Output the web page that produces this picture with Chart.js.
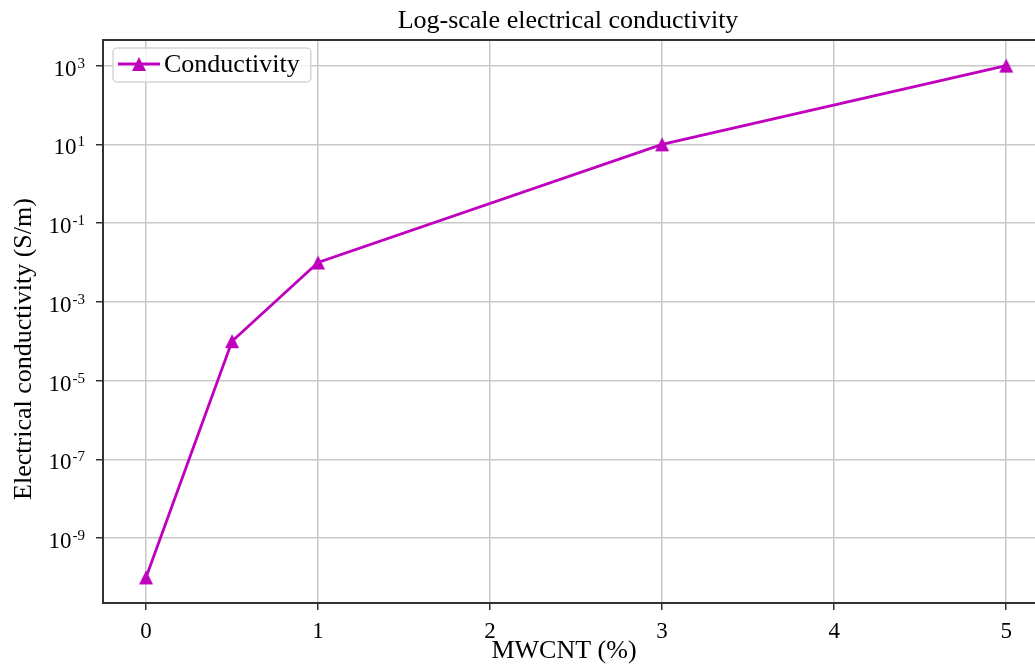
<!DOCTYPE html>
<html>
<head>
<meta charset="utf-8">
<script src="https://cdn.jsdelivr.net/npm/chart.js@4"></script>
<style>
  html, body { margin: 0; padding: 0; background: #fff; overflow: hidden; }
</style>
</head>
<body>
<canvas id="myChart" width="1059" height="664"></canvas>
<script>
// MWCNT loading (%) vs electrical conductivity (S/m)
const mwcnt = [0, 0.5, 1, 3, 5];
const conductivity = [1e-10, 1e-4, 1e-2, 1e1, 1e3];
const xTicks = [0, 1, 2, 3, 4, 5];
const yTickExponents = [-9, -7, -5, -3, -1, 1, 3];

const seriesLabel = 'Conductivity';
const titleText = 'Log-scale electrical conductivity';
const xLabel = 'MWCNT (%)';
const yLabel = 'Electrical conductivity (S/m)';

const lineColor = '#bf00bf';
const serif = "'Liberation Serif', 'Times New Roman', serif";

// matplotlib style '^' marker (centred box, not equilateral)
function makeTriangle() {
  const c = document.createElement('canvas');
  c.width = 16; c.height = 16;
  const g = c.getContext('2d');
  g.fillStyle = lineColor;
  g.beginPath();
  g.moveTo(8, 1);
  g.lineTo(1, 15);
  g.lineTo(15, 15);
  g.closePath();
  g.fill();
  return c;
}
const triangle = makeTriangle();

const decorations = {
  id: 'decorations',
  afterDraw(chart) {
    const ctx = chart.ctx;
    const area = chart.chartArea;
    const yScale = chart.scales.y;
    ctx.save();

    // spines
    ctx.strokeStyle = '#333';
    ctx.lineWidth = 2;
    ctx.strokeRect(area.left, area.top, area.right - area.left, area.bottom - area.top);

    // y tick labels 10^n
    ctx.fillStyle = '#000';
    ctx.textBaseline = 'alphabetic';
    const rightEdge = area.left - 18;
    yTickExponents.forEach(function (e) {
      const py = yScale.getPixelForValue(Math.pow(10, e));
      ctx.font = '15px ' + serif;
      const expTxt = String(e);
      const ew = ctx.measureText(expTxt).width;
      ctx.textAlign = 'left';
      ctx.fillText(expTxt, rightEdge - ew, py + 2);
      ctx.font = '23px ' + serif;
      ctx.textAlign = 'right';
      ctx.fillText('10', rightEdge - ew - 1, py + 10);
    });

    // legend
    const lx = area.left + 10, ly = area.top + 8;
    ctx.font = '26px ' + serif;
    const tw = ctx.measureText(seriesLabel).width;
    const bw = 54 + tw + 8, bh = 34;
    ctx.beginPath();
    if (ctx.roundRect) ctx.roundRect(lx, ly, bw, bh, 4); else ctx.rect(lx, ly, bw, bh);
    ctx.fillStyle = 'rgba(255,255,255,0.8)';
    ctx.fill();
    ctx.strokeStyle = '#d6d6d6';
    ctx.lineWidth = 1.5;
    ctx.stroke();
    ctx.strokeStyle = lineColor;
    ctx.lineWidth = 2.8;
    ctx.beginPath();
    ctx.moveTo(lx + 5, ly + 16);
    ctx.lineTo(lx + 47, ly + 16);
    ctx.stroke();
    ctx.drawImage(triangle, lx + 26 - 8, ly + 16 - 8);
    ctx.fillStyle = '#000';
    ctx.textAlign = 'left';
    ctx.fillText(seriesLabel, lx + 51, ly + 24);

    // title and axis labels
    ctx.textAlign = 'center';
    ctx.font = '26px ' + serif;
    ctx.fillText(titleText, 568, 28);
    ctx.fillText(xLabel, 564, 658);
    ctx.translate(31, 349);
    ctx.rotate(-Math.PI / 2);
    ctx.fillText(yLabel, 0, 0);
    ctx.restore();
  }
};

const config = {
  type: 'line',
  data: {
    datasets: [{
      label: seriesLabel,
      data: mwcnt.map(function (x, i) { return { x: x, y: conductivity[i] }; }),
      borderColor: lineColor,
      backgroundColor: lineColor,
      borderWidth: 2.8,
      pointStyle: triangle,
      pointRadius: 7,
      tension: 0
    }]
  },
  options: {
    responsive: false,
    animation: false,
    layout: { padding: { top: 40, right: 3, left: 0, bottom: 0 } },
    plugins: {
      legend: { display: false },
      title: { display: false },
      tooltip: { enabled: false }
    },
    scales: {
      x: {
        type: 'linear',
        min: -0.25,
        max: 5.25,
        afterBuildTicks: function (scale) {
          scale.ticks = xTicks.map(function (v) { return { value: v }; });
        },
        afterFit: function (scale) { scale.height = 61; },
        grid: { color: '#c8c8c8', lineWidth: 1.5, tickLength: 7, tickColor: '#333', tickWidth: 1.5 },
        border: { display: false },
        ticks: { color: '#000', font: { family: serif, size: 23 }, padding: 8, maxRotation: 0, autoSkip: false }
      },
      y: {
        type: 'logarithmic',
        min: Math.pow(10, -10.65),
        max: Math.pow(10, 3.65),
        afterBuildTicks: function (scale) {
          scale.ticks = yTickExponents.map(function (e) { return { value: Math.pow(10, e) }; });
        },
        afterFit: function (scale) { scale.width = 103; },
        grid: { color: '#c8c8c8', lineWidth: 1.5, tickLength: 7, tickColor: '#333', tickWidth: 1.5 },
        border: { display: false },
        ticks: { display: false }
      }
    }
  },
  plugins: [decorations]
};

const myChart = new Chart(document.getElementById('myChart'), config);
</script>
</body>
</html>
